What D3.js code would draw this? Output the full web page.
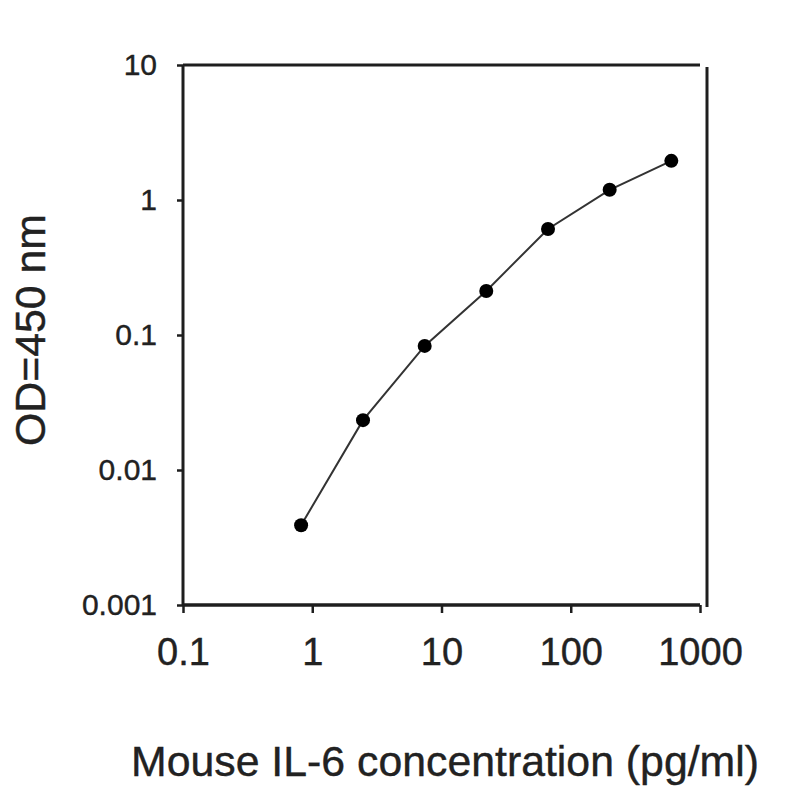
<!DOCTYPE html>
<html><head><meta charset="utf-8">
<script src="https://cdn.jsdelivr.net/npm/d3@7"></script>
<style>body{margin:0;background:#fff}svg{display:block}text{font-family:"Liberation Sans",Arial,sans-serif;fill:#222}</style>
</head><body>
<svg id="c" width="800" height="800"></svg>
<script>
const concentration = [0.82, 2.47, 7.41, 22.2, 66.7, 200, 600];
const odValues = [0.0039, 0.0234, 0.083, 0.212, 0.61, 1.19, 1.95];
const xTicks = [0.1, 1, 10, 100, 1000];
const xTickLabels = ["0.1", "1", "10", "100", "1000"];
const yTicks = [0.001, 0.01, 0.1, 1, 10];
const yTickLabels = ["0.001", "0.01", "0.1", "1", "10"];
const xTitle = "Mouse IL-6 concentration (pg/ml)";
const yTitle = "OD=450 nm";

const svg = d3.select("#c");
const x = d3.scaleLog().domain([0.1, 1000]).range([183, 700]);
const y = d3.scaleLog().domain([0.001, 10]).range([605, 65]);
const ink = "#1e1e1e";

// frame top and right
svg.append("line").attr("x1", x(0.1)).attr("x2", x(1000)).attr("y1", y(10)).attr("y2", y(10))
  .attr("stroke", ink).attr("stroke-width", 3);
svg.append("line").attr("x1", x(1000) + 7).attr("x2", x(1000) + 7).attr("y1", y(10) + 2).attr("y2", y(0.001) + 2)
  .attr("stroke", ink).attr("stroke-width", 3);

// x axis
const xAxis = d3.axisBottom(x).tickValues(xTicks).tickFormat((d, i) => xTickLabels[i]).tickSize(8).tickPadding(25);
const gx = svg.append("g").attr("transform", `translate(0,${y(0.001)})`).call(xAxis);
gx.select(".domain").attr("stroke", ink).attr("stroke-width", 3.5).attr("d", `M${x(0.1)},0H${x(1000)}`);
gx.selectAll(".tick line").attr("stroke", ink).attr("stroke-width", 2.5);
gx.selectAll(".tick text").attr("font-size", 38).attr("fill", ink)
  .attr("stroke", ink).attr("stroke-width", 0.4)
  .style("font-family", "Liberation Sans, Arial, sans-serif");

// y axis
const yAxis = d3.axisLeft(y).tickValues(yTicks).tickFormat((d, i) => yTickLabels[i]).tickSize(6).tickPadding(20);
const gy = svg.append("g").attr("transform", `translate(${x(0.1)},0)`).call(yAxis);
gy.select(".domain").attr("stroke", ink).attr("stroke-width", 3).attr("d", `M0,${y(10)}V${y(0.001)}`);
gy.selectAll(".tick line").attr("stroke", ink).attr("stroke-width", 2.5);
gy.selectAll(".tick text").attr("font-size", 30).attr("fill", ink)
  .attr("stroke", ink).attr("stroke-width", 0.4)
  .style("font-family", "Liberation Sans, Arial, sans-serif");

// line + points
const data = concentration.map((c, i) => ({c, v: odValues[i]}));
svg.append("path").datum(data)
  .attr("fill", "none").attr("stroke", "#333").attr("stroke-width", 2)
  .attr("d", d3.line().x(d => x(d.c)).y(d => y(d.v)));
svg.selectAll("circle.pt").data(data).enter().append("circle").attr("class", "pt")
  .attr("cx", d => x(d.c)).attr("cy", d => y(d.v)).attr("r", 7).attr("fill", "#000");

// titles
svg.append("text").attr("x", 445).attr("y", 776).attr("text-anchor", "middle")
  .attr("font-size", 42).attr("textLength", 628).attr("lengthAdjust", "spacingAndGlyphs")
  .attr("stroke", ink).attr("stroke-width", 0.4).text(xTitle);
svg.append("text").attr("transform", "translate(45,330) rotate(-90)").attr("text-anchor", "middle")
  .attr("font-size", 42).attr("textLength", 232).attr("lengthAdjust", "spacingAndGlyphs")
  .attr("stroke", ink).attr("stroke-width", 0.4).text(yTitle);
</script>
</body></html>
